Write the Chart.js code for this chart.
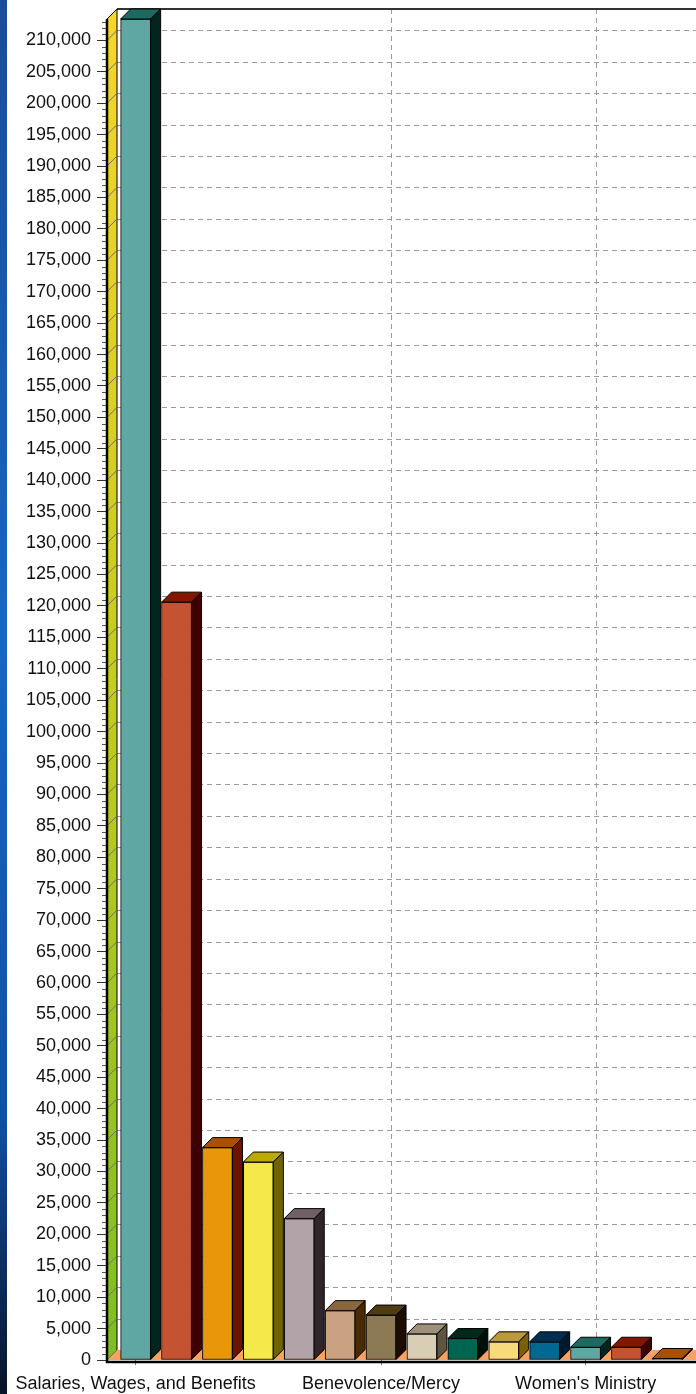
<!DOCTYPE html>
<html>
<head>
<meta charset="utf-8">
<script src="https://cdn.jsdelivr.net/npm/chart.js@4.4.1/dist/chart.umd.min.js"></script>
<style>
html,body{margin:0;padding:0;background:#fff;overflow:hidden}
#wrap{width:696px;height:1394px;position:relative}
canvas{display:block}
</style>
</head>
<body>
<div id="wrap"><canvas id="c" width="696" height="1394"></canvas></div>
<script>
// ---- data ----
const categories = ["Salaries, Wages, and Benefits", "", "", "", "", "", "Benevolence/Mercy", "", "", "", "", "Women's Ministry", "", ""];
const values = [213400, 120600, 33800, 31500, 22500, 7850, 7150, 4150, 3420, 2890, 2890, 2030, 2030, 240];
const labeledIndexes = [0, 6, 11];
const yMax = 213400;
const yStep = 5000;
const yMinorStep = 1000;

// ---- styling ----
const frontColors = ["#5FA7A2", "#C55331", "#E8960A", "#F5E84B", "#B1A3A8", "#C9A381", "#8C7A54", "#D8CEB6", "#006652", "#F7DA7B", "#006891"];
const topColors   = ["#1E6A63", "#861500", "#A65000", "#BBAA00", "#706064", "#8A6640", "#4F3C10", "#9D907A", "#00291C", "#BB993A", "#002F50"];
const sideColors  = ["#00261F", "#3E0000", "#6A1500", "#706400", "#30252A", "#4A2A00", "#1C0D00", "#5E5440", "#001008", "#7A6000", "#00192E"];
const DX = 10, DY = 10;
const FONT = "'Liberation Sans', Arial, sans-serif";

Chart.defaults.font.family = FONT;
Chart.defaults.font.size = 18;
Chart.defaults.color = '#111';

const threeD = {
  id: 'threeD',
  beforeDraw(chart) {
    const {ctx, width, height} = chart;
    ctx.save();
    ctx.fillStyle = '#fff';
    ctx.fillRect(0, 0, width, height);
    const g = ctx.createLinearGradient(0, 0, 0, height);
    g.addColorStop(0, '#1a4c9a');
    g.addColorStop(0.45, '#1766c6');
    g.addColorStop(0.8, '#1050a8');
    g.addColorStop(1, '#081428');
    ctx.fillStyle = g;
    ctx.fillRect(0, 0, 7, height);
    ctx.restore();
  },
  beforeDatasetsDraw(chart) {
    const {ctx, chartArea: a, scales: {x, y}} = chart;
    ctx.save();
    // floor
    ctx.fillStyle = '#F7A262';
    ctx.beginPath();
    ctx.moveTo(a.left, a.bottom);
    ctx.lineTo(a.right + DX, a.bottom);
    ctx.lineTo(a.right + DX, a.bottom - DY);
    ctx.lineTo(a.left + DX, a.bottom - DY);
    ctx.closePath();
    ctx.fill();
    // dashed grid on back wall
    ctx.strokeStyle = '#9a9a9a';
    ctx.lineWidth = 1;
    ctx.setLineDash([5, 4]);
    y.ticks.forEach(t => {
      if (t.value === 0) return;
      const py = Math.round(y.getPixelForValue(t.value) - DY) + 0.5;
      ctx.beginPath();
      ctx.moveTo(a.left + DX, py);
      ctx.lineTo(a.right + DX, py);
      ctx.stroke();
    });
    x.ticks.forEach(t => {
      const px = Math.round(x.getPixelForValue(t.value) + DX) + 0.5;
      ctx.beginPath();
      ctx.moveTo(px, a.top - DY);
      ctx.lineTo(px, a.bottom - DY);
      ctx.stroke();
    });
    ctx.setLineDash([]);
    // top border
    ctx.strokeStyle = '#333';
    ctx.lineWidth = 2;
    ctx.beginPath();
    ctx.moveTo(a.left + DX, a.top - DY);
    ctx.lineTo(a.right + DX, a.top - DY);
    ctx.stroke();
    // left wall
    const wg = ctx.createLinearGradient(0, a.top, 0, a.bottom);
    wg.addColorStop(0, '#F7D52A');
    wg.addColorStop(0.5, '#C4CC1C');
    wg.addColorStop(1, '#7DBF1E');
    ctx.fillStyle = wg;
    ctx.beginPath();
    ctx.moveTo(a.left, a.top);
    ctx.lineTo(a.left + DX, a.top - DY);
    ctx.lineTo(a.left + DX, a.bottom - DY);
    ctx.lineTo(a.left, a.bottom);
    ctx.closePath();
    ctx.fill();
    ctx.strokeStyle = '#000';
    ctx.lineWidth = 1;
    ctx.stroke();
    // wall tick lines
    ctx.strokeStyle = '#6f6f6f';
    y.ticks.forEach(t => {
      const py = y.getPixelForValue(t.value);
      ctx.beginPath();
      ctx.moveTo(a.left, py);
      ctx.lineTo(a.left + DX, py - DY);
      ctx.stroke();
    });
    // minor ticks
    ctx.strokeStyle = '#555';
    for (let v = 0; v <= yMax; v += yMinorStep) {
      if (v % yStep === 0) continue;
      const py = Math.round(y.getPixelForValue(v)) + 0.5;
      ctx.beginPath();
      ctx.moveTo(a.left - 5, py);
      ctx.lineTo(a.left, py);
      ctx.stroke();
    }
    ctx.restore();
  },
  afterDatasetsDraw(chart) {
    const {ctx, chartArea: a} = chart;
    const meta = chart.getDatasetMeta(0);
    ctx.save();
    ctx.strokeStyle = '#000';
    ctx.lineWidth = 1;
    meta.data.forEach((el, i) => {
      const p = el.getProps(['x', 'y', 'base', 'width'], true);
      const l = p.x - p.width / 2, r = p.x + p.width / 2;
      const top = p.y, base = p.base;
      ctx.fillStyle = topColors[i % topColors.length];
      ctx.beginPath();
      ctx.moveTo(l, top);
      ctx.lineTo(l + DX, top - DY);
      ctx.lineTo(r + DX, top - DY);
      ctx.lineTo(r, top);
      ctx.closePath();
      ctx.fill();
      ctx.stroke();
      ctx.fillStyle = sideColors[i % sideColors.length];
      ctx.beginPath();
      ctx.moveTo(r, top);
      ctx.lineTo(r + DX, top - DY);
      ctx.lineTo(r + DX, base - DY);
      ctx.lineTo(r, base);
      ctx.closePath();
      ctx.fill();
      ctx.stroke();
    });
    // front axis lines
    ctx.strokeStyle = '#000';
    ctx.lineWidth = 2.5;
    ctx.beginPath();
    ctx.moveTo(a.left, a.top);
    ctx.lineTo(a.left, a.bottom + 3);
    ctx.stroke();
    ctx.beginPath();
    ctx.moveTo(a.left - 1, a.bottom + 2);
    ctx.lineTo(a.right + DX, a.bottom + 2);
    ctx.stroke();
    ctx.restore();
  }
};

new Chart(document.getElementById('c'), {
  type: 'bar',
  data: {
    datasets: [{
      data: values.map((v, i) => ({x: i, y: v})),
      backgroundColor: values.map((_, i) => frontColors[i % frontColors.length]),
      borderColor: '#000',
      borderWidth: 1,
      borderSkipped: false,
      barThickness: 30
    }]
  },
  options: {
    responsive: false,
    animation: false,
    devicePixelRatio: 1,
    layout: {padding: {top: 19, left: 0, right: 0, bottom: 0}},
    plugins: {legend: {display: false}, tooltip: {enabled: false}},
    scales: {
      x: {
        type: 'linear',
        offset: false,
        min: -0.7,
        max: 13.7,
        afterBuildTicks: s => { s.ticks = labeledIndexes.map(v => ({value: v})); },
        afterFit: s => { s.height = 34; },
        ticks: {
          autoSkip: false,
          maxRotation: 0,
          padding: 8,
          color: '#111',
          callback: v => categories[v] ?? ''
        },
        grid: {offset: false, drawOnChartArea: false, drawTicks: true, tickLength: 5, color: '#777'},
        border: {display: false}
      },
      y: {
        type: 'linear',
        min: 0,
        max: yMax,
        afterBuildTicks: s => {
          const t = [];
          for (let v = 0; v <= yMax; v += yStep) t.push({value: v});
          s.ticks = t;
        },
        afterFit: s => { s.width = 107; },
        ticks: {
          padding: 6,
          color: '#111',
          callback: v => Number(v).toLocaleString('en-US')
        },
        grid: {drawOnChartArea: false, drawTicks: true, tickLength: 10, color: '#333'},
        border: {display: false}
      }
    }
  },
  plugins: [threeD]
});
</script>
</body>
</html>
